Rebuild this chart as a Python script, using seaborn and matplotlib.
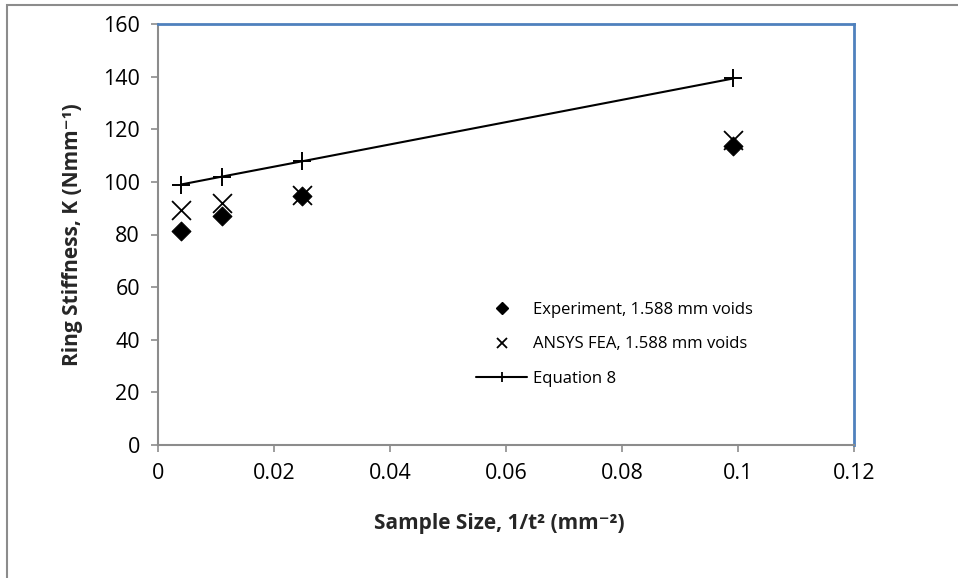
import numpy as np
import pandas as pd
import matplotlib
matplotlib.use("Agg")
import matplotlib.pyplot as plt
from matplotlib.patches import Rectangle
from matplotlib.lines import Line2D
import seaborn as sns

# 1/t^2 for the four sample sizes
sample_size = [0.00397, 0.01102, 0.0248, 0.0992]
experiment = [81.2, 87.2, 94.8, 113.5]
ansys_fea = [89.3, 91.8, 95.2, 116.0]
equation_8 = [99.0, 102.0, 107.8, 139.3]

labels = ["Experiment, 1.588 mm voids", "ANSYS FEA, 1.588 mm voids", "Equation 8"]
xtick_labels = ["0", "0.02", "0.04", "0.06", "0.08", "0.1", "0.12"]

df = pd.DataFrame({"x": sample_size, "exp": experiment,
                   "fea": ansys_fea, "eq": equation_8})

sns.set_style("white")
plt.rcParams['font.family'] = ['Open Sans', 'DejaVu Sans']
plt.rcParams['text.color'] = 'black'

fig = plt.figure(figsize=(9.58, 5.78), dpi=100)
# plot area in pixels: x 158..854, y 24..445
ax = fig.add_axes([158 / 958, 1 - 445 / 578, 696 / 958, 421 / 578])

sns.lineplot(data=df, x="x", y="eq", ax=ax, color="black", lw=1.5,
             marker="+", markersize=12.5, markeredgewidth=1.4,
             markeredgecolor="black")
sns.scatterplot(data=df, x="x", y="fea", ax=ax, marker="x", s=185,
                color="black", linewidth=1.3, zorder=3)
sns.scatterplot(data=df, x="x", y="exp", ax=ax, marker="D", s=92,
                color="black", edgecolor="black", zorder=4)

ax.set_xlim(0, 0.12)
ax.set_ylim(0, 160)
ax.set_xticks(np.arange(0, 0.121, 0.02))
ax.set_xticklabels(xtick_labels)
ax.set_yticks(np.arange(0, 161, 20))
ax.tick_params(axis="both", which="major", bottom=True, left=True,
               direction="out", length=5, width=1.2, color="#8c8c8c",
               labelcolor="black", labelsize=15.5, pad=8)

for side in ["left", "bottom"]:
    ax.spines[side].set_color("#8c8c8c")
    ax.spines[side].set_linewidth(1.5)
for side in ["top", "right"]:
    ax.spines[side].set_color("#4f81bd")
    ax.spines[side].set_linewidth(2)

ax.set_xlabel("Sample Size, 1/t² (mm⁻²)", fontsize=15, fontweight="bold")
ax.set_ylabel("Ring Stiffness, K (Nmm⁻¹)", fontsize=15, fontweight="bold")
ax.xaxis.set_label_coords(0.49, -0.162)
ax.yaxis.set_label_coords(-0.108, 0.5)

handles = [
    Line2D([], [], ls="none", marker="D", ms=6, color="black"),
    Line2D([], [], ls="none", marker="x", ms=7.5, mew=1.3, color="black"),
    Line2D([], [], color="black", lw=1.5, marker="+", ms=7.5, mew=1.3),
]
ax.legend(handles, labels, loc="upper left", bbox_to_anchor=(0.435, 0.375),
          frameon=False, fontsize=12, handlelength=3.1, labelspacing=1.1,
          handletextpad=0.35)

# chart border
fig.patches.append(Rectangle((7 / 958, -0.1), 1.2, 1.1 - 5 / 578,
                             transform=fig.transFigure, fill=False,
                             edgecolor="#8c8c8c", lw=1.5))

fig.savefig("out.png", dpi=100)
